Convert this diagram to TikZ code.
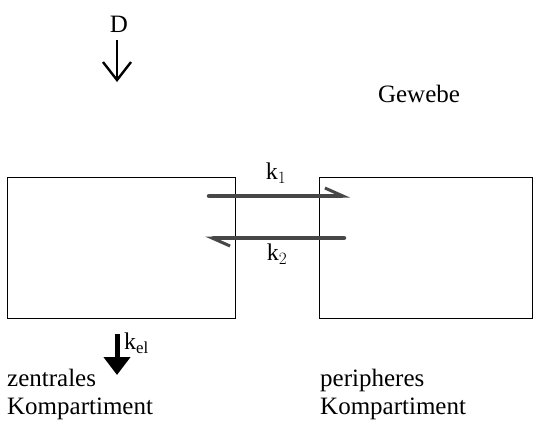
\documentclass[tikz,border=0pt]{standalone}
\usepackage{fontspec}
\setmainfont{Liberation Serif}
\usetikzlibrary{arrows.meta}
\begin{document}
\begin{tikzpicture}[x=1pt,y=-1pt,
  comp/.style={draw=black,line width=1.3pt},
  lbl/.style={font=\fontsize{25}{28}\selectfont,inner sep=0pt},
  ktxt/.style={font=\fontsize{24}{26}\selectfont,inner sep=0pt},
  harp/.style={draw=black!72,line width=4.5pt,line cap=round,-{Straight Barb[left,length=18pt,width=16pt,line width=3pt]}},
]
\useasboundingbox (0,0) rectangle (544,439);
\node[comp,minimum width=228pt,minimum height=141pt,inner sep=0pt,anchor=north west] (zen) at (7,177) {};
\node[comp,minimum width=213pt,minimum height=141pt,inner sep=0pt,anchor=north west] (per) at (319,177) {};
% D input
\node[lbl] (D) at (119,24) {D};
\coordinate (dtop) at (117,40);
\coordinate (dbot) at (117,82);
\draw[line width=2.4pt,-{Straight Barb[length=18pt,width=28pt,line width=2.4pt]}] (dtop) -- (dbot);
\node[lbl] (gew) at (419,94) {Gewebe};
% exchange
\coordinate (a1) at (209,196);
\coordinate (b1) at (350,196);
\coordinate (a2) at (344,238);
\coordinate (b2) at (205,238);
\draw[harp] (a1) -- (b1);
\draw[harp] (a2) -- (b2);
\node[ktxt] (k1) at (276,173) {k$_1$};
\node[ktxt] (k2) at (277,254) {k$_2$};
% elimination
\coordinate (etop) at (117,334);
\coordinate (ebot) at (117,375);
\draw[line width=5pt,-{Triangle[length=18pt,width=26pt]}] (etop) -- (ebot);
\node[ktxt,anchor=west] (kel) at (124,343) {k$_{\mathrm{el}}$};
\node[lbl,anchor=north west,align=left] (zt) at (7,369) {zentrales\\Kompartiment};
\node[lbl,anchor=north west,align=left] (pt) at (320,369) {peripheres\\Kompartiment};
\end{tikzpicture}
\end{document}
